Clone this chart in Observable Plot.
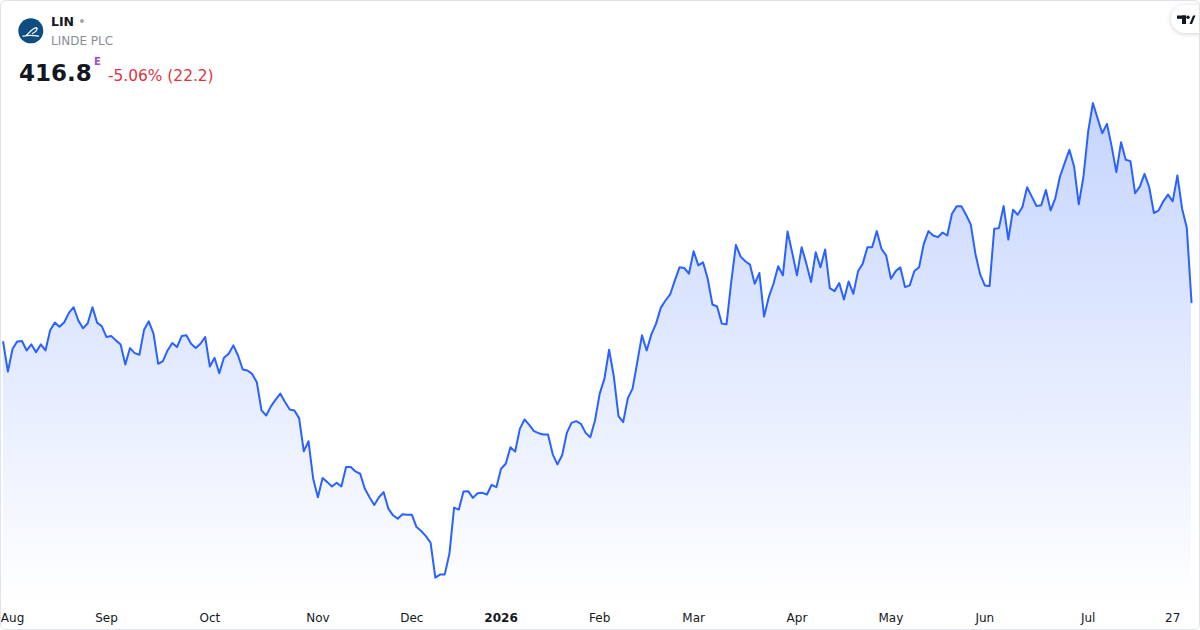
<!DOCTYPE html>
<html>
<head>
<meta charset="utf-8">
<script src="https://cdn.jsdelivr.net/npm/d3@7"></script>
<script src="https://cdn.jsdelivr.net/npm/@observablehq/plot@0.6"></script>
<style>
  html, body { margin: 0; padding: 0; background: #ffffff; }
  body { width: 1200px; height: 630px; overflow: hidden; font-family: "DejaVu Sans", sans-serif; }
  #wrap { position: relative; width: 1200px; height: 630px; }
  #header { position: relative; width: 1200px; height: 90px; }
  #header .t { position: absolute; white-space: nowrap; line-height: 1; }
  #frame { position: absolute; left: 0; top: 0; width: 1200px; height: 630px; box-sizing: border-box;
           border: 1px solid #e0e3eb; border-radius: 6px; pointer-events: none; }
  #tv { position: absolute; left: 1171px; top: 5px; width: 44px; height: 28px; border-radius: 14px;
        background: #fff; box-shadow: 0 1px 5px rgba(0,0,0,0.18); }
  #chart svg { display: block; }
</style>
</head>
<body>
<div id="wrap">
  <div id="header">
    <svg style="position:absolute;left:18px;top:18px" width="26" height="26" viewBox="0 0 26 26">
      <circle cx="12.8" cy="12.8" r="12.5" fill="#0f4c81"/>
      <path d="M5 18.2 Q12 16.6 20.5 18.2 M7.5 18 C11 15.5 14 10.5 17.5 9.8 C20.5 9.3 19 13.5 14.5 15.5"
            fill="none" stroke="#ffffff" stroke-width="1.3" stroke-linecap="round"/>
    </svg>
    <div class="t" style="left:51px;top:15.5px;font-size:12.5px;font-weight:bold;color:#131722">LIN</div>
    <div style="position:absolute;left:80px;top:19px;width:4px;height:4px;border-radius:2px;background:#a3a6af"></div>
    <div class="t" style="left:51px;top:34.8px;font-size:12px;color:#8a8d96">LINDE PLC</div>
    <div class="t" style="left:19px;top:61.5px;font-size:23px;font-weight:bold;color:#131722">416.8</div>
    <div class="t" style="left:94px;top:56.5px;font-size:10px;font-weight:bold;color:#a24bc2">E</div>
    <div class="t" style="left:108px;top:68.5px;font-size:15.4px;color:#e0323f">-5.06% (22.2)</div>
  </div>
  <div id="chart"></div>
  <div id="tv">
    <svg width="20" height="10" viewBox="0 0 20 10" style="position:absolute;left:6px;top:10px">
      <rect x="0" y="0.5" width="9" height="3.3" fill="#131722"/>
      <rect x="5" y="0.5" width="4" height="8.5" fill="#131722"/>
      <circle cx="11" cy="2.2" r="1.7" fill="#131722"/>
      <polygon points="12.5,9 15,9 18.5,0.5 16,0.5" fill="#131722"/>
    </svg>
  </div>
  <div id="frame"></div>
</div>
<script>
// Daily closing prices (one value per trading day, oldest first)
const prices = [
  404.9, 396.1, 402.9, 405.1, 405.2, 402.4, 404.2, 401.9, 404.2, 402.4,
  408.4, 410.7, 409.5, 410.8, 413.6, 415.3, 411.3, 409.0, 410.5, 415.3,
  410.7, 409.6, 406.4, 406.7, 405.4, 404.2, 398.2, 403.1, 401.6, 401.1,
  408.6, 411.1, 407.4, 398.4, 399.2, 402.4, 404.6, 403.4, 406.7, 406.9,
  404.4, 403.1, 404.4, 406.4, 397.6, 400.2, 395.6, 400.2, 401.4, 403.9,
  400.9, 396.7, 396.4, 395.4, 392.9, 384.5, 383.0, 385.7, 387.7, 389.5,
  387.0, 384.8, 384.5, 382.2, 372.3, 375.3, 364.1, 358.6, 364.3, 363.1,
  361.8, 362.9, 361.8, 367.6, 367.6, 366.3, 365.6, 361.1, 358.6, 356.3,
  358.6, 360.1, 355.2, 353.2, 352.2, 353.5, 353.4, 353.4, 349.7, 348.5,
  347.0, 345.0, 334.6, 335.5, 335.5, 341.7, 355.5, 354.9, 360.3, 360.4,
  358.4, 359.8, 359.9, 359.4, 362.3, 361.6, 367.1, 368.6, 373.5, 372.2,
  379.0, 381.8, 380.2, 378.3, 377.7, 377.3, 377.3, 371.4, 368.4, 371.1,
  377.8, 380.8, 381.3, 380.5, 377.8, 376.5, 381.5, 389.5, 393.9, 402.6,
  394.7, 382.8, 381.0, 388.2, 391.0, 398.9, 406.9, 402.4, 407.2, 410.4,
  415.1, 417.3, 419.1, 423.3, 427.2, 427.0, 425.3, 432.0, 427.8, 428.7,
  423.8, 416.1, 415.5, 410.4, 410.2, 422.8, 433.9, 430.4, 429.0, 428.0,
  422.3, 425.5, 412.5, 418.3, 422.3, 427.5, 424.8, 437.9, 431.5, 424.8,
  433.2, 428.3, 422.8, 431.7, 427.2, 432.5, 421.0, 420.1, 422.5, 417.6,
  423.0, 419.3, 426.0, 428.3, 433.2, 433.2, 438.0, 432.7, 430.7, 423.8,
  426.0, 427.2, 421.3, 421.8, 426.1, 427.2, 434.2, 438.0, 436.7, 436.2,
  437.6, 436.7, 443.2, 445.4, 445.4, 442.9, 440.0, 431.2, 425.1, 421.8,
  421.6, 438.7, 438.9, 445.5, 435.5, 444.4, 442.9, 445.2, 451.1, 448.3,
  445.5, 445.7, 450.3, 444.2, 447.8, 454.3, 458.3, 462.3, 457.3, 446.0,
  454.3, 467.7, 476.2, 471.7, 467.2, 470.0, 463.3, 455.6, 464.5, 459.3,
  458.9, 449.3, 451.3, 455.1, 451.1, 443.4, 444.2, 446.9, 448.9, 446.9,
  454.6, 444.7, 439.0, 416.8
];

// Time-axis labels and the trading-day index where each one sits
const tickLabels = ["Aug", "Sep", "Oct", "Nov", "Dec", "2026", "Feb", "Mar", "Apr", "May", "Jun", "Jul", "27"];
const tickIndex  = [2, 22, 44, 67, 87, 106, 127, 147, 169, 189, 209, 231, 249];

const data = prices.map((price, i) => ({i, price}));
const labelOf = new Map(tickIndex.map((t, k) => [t, tickLabels[k]]));
const yBase = 327;

const defs = () => {
  const d = d3.create("svg:defs");
  const g = d.append("linearGradient").attr("id", "areaGrad")
    .attr("x1", 0).attr("y1", 0).attr("x2", 0).attr("y2", 1);
  g.append("stop").attr("offset", "0%").attr("stop-color", "#2962ff").attr("stop-opacity", 0.27);
  g.append("stop").attr("offset", "100%").attr("stop-color", "#2962ff").attr("stop-opacity", 0.0);
  return d.node();
};

const chart = Plot.plot({
  width: 1200,
  height: 540,
  marginTop: 0,
  marginBottom: 27,
  marginLeft: 0,
  marginRight: 0,
  style: {fontFamily: "DejaVu Sans, sans-serif", fontSize: "12px", color: "#131722", background: "transparent", overflow: "visible"},
  x: {domain: [0, prices.length - 1], range: [2.7, 1191], axis: null},
  y: {domain: [yBase, 480], range: [512.6, -0.1], axis: null},
  marks: [
    defs,
    Plot.areaY(data, {x: "i", y1: yBase, y2: "price", fill: "url(#areaGrad)"}),
    Plot.lineY(data, {x: "i", y: "price", stroke: "#2962ff", strokeWidth: 2, strokeLinejoin: "round"}),
    Plot.axisX({ticks: tickIndex, tickFormat: d => labelOf.get(d), tickSize: 0, tickPadding: 10, fontSize: 12, fill: "#131722", label: null})
  ]
});

d3.select(chart).selectAll("text").filter(function() { return this.textContent === "2026"; })
  .attr("font-weight", "bold");

document.getElementById("chart").appendChild(chart);
</script>
</body>
</html>
